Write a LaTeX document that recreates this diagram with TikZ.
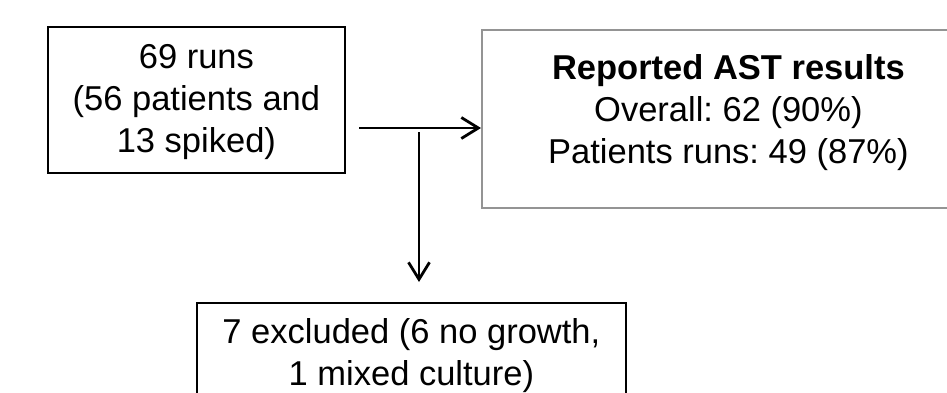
\documentclass[tikz,border=0pt]{standalone}
\usepackage{fontspec}
\setmainfont{Liberation Sans}
\usetikzlibrary{arrows.meta}
\frenchspacing

\begin{document}
\begin{tikzpicture}[
        x=1pt, y=-1pt,
        box/.style={rectangle, draw=black, line width=1.8pt, inner xsep=0pt, inner ysep=0pt, anchor=north west, align=center, font=\fontsize{34.5}{42}\selectfont},
        result/.style={box, draw=black!42},
        flow/.style={line width=2.8pt, -{Straight Barb[length=17pt, width=21pt]}}
    ]
        % Canvas and clipping of the boxes that run off the page
        \useasboundingbox (0,0) rectangle (947,392);
        \fill[white] (0,0) rectangle (947,392);
        \clip (0,0) rectangle (947,392);

        % Starting runs
        \node[box, minimum width=297pt, text height=126pt, text depth=20pt] (runs) at (47,26) {69 runs\\(56 patients and\\13 spiked)};

        % Reported results
        \node[result, minimum width=493pt, text height=134pt, text depth=44pt] (reported) at (481,29) {\textbf{Reported AST results}\\Overall: 62 (90\%)\\Patients runs: 49 (87\%)};

        % Excluded runs
        \node[box, minimum width=429pt, text height=83pt, text depth=20pt] (excluded) at (196,302) {7 excluded (6 no growth,\\1 mixed culture)};

        % Connections
        \coordinate (split) at (359,128);
        \coordinate (tee) at (419,132);
        \draw[flow] (split) -- (split -| reported.west);
        \draw[flow] (tee) -- ([yshift=20pt]tee |- excluded.north);

    \end{tikzpicture}
\end{document}
